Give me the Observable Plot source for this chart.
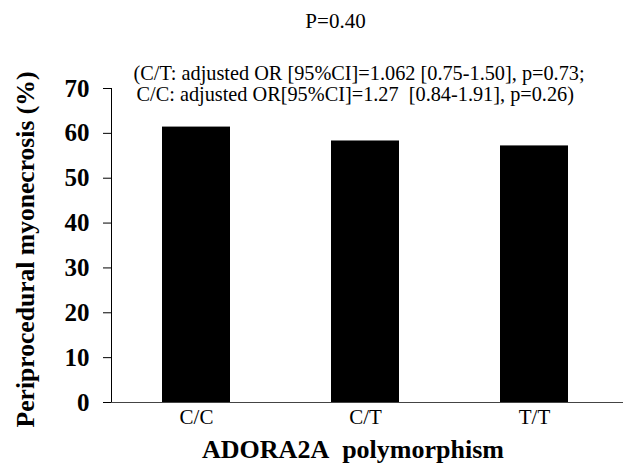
<!DOCTYPE html>
<html>
<head>
<meta charset="utf-8">
<script src="https://cdn.jsdelivr.net/npm/d3@7"></script>
<script src="https://cdn.jsdelivr.net/npm/@observablehq/plot@0.6"></script>
<style>
  html, body { margin: 0; padding: 0; background: #fff; }
  #chart svg { display: block; }
  #chart svg, #chart svg text, #chart svg g { font-family: "Liberation Serif", "Times New Roman", serif !important; }
  g[aria-label="y-axis tick label"] text { font-weight: bold; font-size: 25px; }
  g[aria-label="x-axis tick label"] text { font-size: 21px; }
</style>
</head>
<body>
<div id="chart"></div>
<script>
const genotypes = ["C/C", "C/T", "T/T"];
const myonecrosis = [61.4, 58.3, 57.2];
const yTicks = [0, 10, 20, 30, 40, 50, 60, 70];
const titleText = "P=0.40";
const noteLine1 = "(C/T: adjusted OR [95%CI]=1.062 [0.75-1.50], p=0.73;";
const noteLine2 = "C/C: adjusted OR[95%CI]=1.27\u00a0 [0.84-1.91], p=0.26)";
const yLabel = "Periprocedural myonecrosis (%)";
const xLabel = "ADORA2A\u00a0 polymorphism";

const data = genotypes.map((g, i) => ({genotype: g, value: myonecrosis[i]}));
const serif = "Liberation Serif";

const chart = Plot.plot({
  width: 625,
  height: 463,
  marginTop: 88,
  marginBottom: 61,
  marginLeft: 111,
  marginRight: 6,
  style: {fontFamily: serif, color: "#000", background: "#fff"},
  x: {domain: genotypes, paddingInner: 0.595, paddingOuter: 0.30, label: null},
  y: {domain: [0, 70], label: null},
  marks: [
    Plot.barY(data, {x: "genotype", y: "value", fill: "#000"}),
    Plot.frame({anchor: "left", stroke: "#000", strokeWidth: 1}),
    Plot.ruleY([0], {stroke: "#444", strokeWidth: 1.2, insetLeft: -8, insetRight: -4}),
    Plot.axisY({ticks: yTicks, tickSize: 8, tickPadding: 14, label: null, fontSize: 25, fontWeight: "bold"}),
    Plot.axisX({tickSize: 0, tickPadding: 7, label: null, fontSize: 21}),
    Plot.text([titleText], {frameAnchor: "top", text: d => d, dx: -30, dy: -61, lineAnchor: "bottom", fontSize: 21, fontFamily: serif}),
    Plot.text([noteLine1], {frameAnchor: "top-left", text: d => d, dx: 22, dy: -9, textAnchor: "start", lineAnchor: "bottom", fontSize: 20.3, fontFamily: serif}),
    Plot.text([noteLine2], {frameAnchor: "top-left", text: d => d, dx: 25, dy: 12, textAnchor: "start", lineAnchor: "bottom", fontSize: 20.3, fontFamily: serif}),
    Plot.text([yLabel], {frameAnchor: "left", text: d => d, dx: -78, dy: 4, rotate: -90, textAnchor: "middle", lineAnchor: "bottom", fontSize: 25.6, fontWeight: "bold", fontFamily: serif}),
    Plot.text([xLabel], {frameAnchor: "bottom", text: d => d, dx: -12.5, dy: 55, textAnchor: "middle", lineAnchor: "bottom", fontSize: 26, fontWeight: "bold", fontFamily: serif})
  ]
});
document.getElementById("chart").appendChild(chart);
</script>
</body>
</html>
